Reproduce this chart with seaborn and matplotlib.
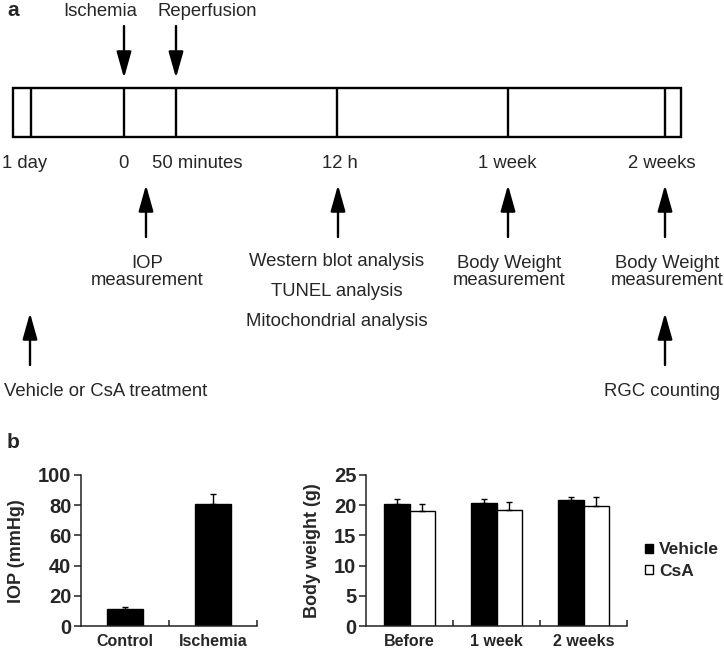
import matplotlib
matplotlib.use("Agg")
import matplotlib.pyplot as plt
import seaborn as sns
import pandas as pd
import numpy as np
from matplotlib.patches import Rectangle, Patch

# ---------------- data ----------------
time_labels = ["1 day", "0", "50 minutes", "12 h", "1 week", "2 weeks"]
top_events = ["Ischemia", "Reperfusion"]
mid_events = ["IOP\nmeasurement",
              "Western blot analysis", "TUNEL analysis", "Mitochondrial analysis",
              "Body Weight\nmeasurement", "Body Weight\nmeasurement"]
low_events = ["Vehicle or CsA treatment", "RGC counting"]

iop_groups = ["Control", "Ischemia"]
iop_mean = [11.2, 80.8]
iop_err = [1.6, 6.6]

bw_times = ["Before", "1 week", "2 weeks"]
bw_groups = ["Vehicle", "CsA"]
vehicle_mean = [20.2, 20.4, 20.9]
vehicle_err = [0.8, 0.7, 0.5]
csa_mean = [19.1, 19.2, 19.8]
csa_err = [1.1, 1.3, 1.5]

# ---------------- style ----------------
sns.set_style("white")
plt.rcParams["font.family"] = ["Liberation Sans", "DejaVu Sans"]

W, H = 724, 653
fig = plt.figure(figsize=(W / 100, H / 100), dpi=100)

# ---------------- panel a: timeline diagram (pixel layout) ----------------
ax_a = fig.add_axes([0, 0, 1, 1])
ax_a.set_xlim(0, W)
ax_a.set_ylim(H, 0)
ax_a.axis("off")

box_l, box_r, box_t, box_b = 13, 681, 88, 137
dividers = [31, 124, 176, 337, 508, 665]
ax_a.add_patch(Rectangle((box_l, box_t), box_r - box_l, box_b - box_t,
                         fill=False, lw=1.7, ec="black"))
ax_a.vlines(dividers, box_t, box_b, colors="black", lw=1.7)

fs = 13.3
arrow_kw = dict(arrowstyle="-|>,head_length=1.6,head_width=0.45",
                lw=1.7, color="black", shrinkA=0, shrinkB=0)

def arrow(x, y_tail, y_tip):
    ax_a.annotate("", xy=(x, y_tip), xytext=(x, y_tail), arrowprops=arrow_kw)

ax_a.text(7, 11, "a", fontsize=15, fontweight="bold", ha="left", va="center")
ax_a.text(7, 443, "b", fontsize=15, fontweight="bold", ha="left", va="center")

# top events
ax_a.text(100, 12, top_events[0], fontsize=fs, ha="center", va="center")
ax_a.text(207, 12, top_events[1], fontsize=fs, ha="center", va="center")
arrow(124, 26, 78)
arrow(176, 26, 78)

# time labels
ty = 163
ax_a.text(2, ty, time_labels[0], fontsize=fs, ha="left", va="center")
ax_a.text(123, ty, time_labels[1], fontsize=fs, ha="center", va="center")
ax_a.text(152, ty, time_labels[2], fontsize=fs, ha="left", va="center")
ax_a.text(340, ty, time_labels[3], fontsize=fs, ha="center", va="center")
ax_a.text(507, ty, time_labels[4], fontsize=fs, ha="center", va="center")
ax_a.text(662, ty, time_labels[5], fontsize=fs, ha="center", va="center")

# middle events
for x in [146, 338, 508, 665]:
    arrow(x, 237, 185)
ax_a.text(147, 272, mid_events[0], fontsize=fs, ha="center", va="center", linespacing=1.05)
ax_a.text(337, 262, mid_events[1], fontsize=fs, ha="center", va="center")
ax_a.text(337, 292, mid_events[2], fontsize=fs, ha="center", va="center")
ax_a.text(337, 322, mid_events[3], fontsize=fs, ha="center", va="center")
ax_a.text(509, 272, mid_events[4], fontsize=fs, ha="center", va="center", linespacing=1.05)
ax_a.text(667, 272, mid_events[5], fontsize=fs, ha="center", va="center", linespacing=1.05)

# lower events
arrow(30, 365, 313)
arrow(665, 365, 313)
ax_a.text(106, 391, low_events[0], fontsize=fs, ha="center", va="center")
ax_a.text(662, 391, low_events[1], fontsize=fs, ha="center", va="center")

# ---------------- panel b ----------------
def px_axes(x0, x1, y0, y1):
    return fig.add_axes([x0 / W, 1 - y1 / H, (x1 - x0) / W, (y1 - y0) / H])

spine_c = "#222222"
tick_fs = 14.5
lab_fs = 13

def style_axes(ax, ncat):
    sns.despine(ax=ax)
    for s in ["left", "bottom"]:
        ax.spines[s].set_color(spine_c)
        ax.spines[s].set_linewidth(1.1)
    ax.set_xlim(-0.5, ncat - 0.5)
    ax.set_xticks(np.arange(ncat) + 0.5, minor=True)
    ax.tick_params(axis="x", which="major", length=0, pad=6, labelsize=11.5)
    ax.tick_params(axis="x", which="minor", direction="in", length=4,
                   width=1.1, color=spine_c)
    ax.tick_params(axis="y", which="major", direction="out", length=5,
                   width=1.1, color=spine_c, pad=2, labelsize=tick_fs)
    ax.tick_params(left=True, bottom=False)
    ax.tick_params(axis="x", which="minor", bottom=True)
    for t in ax.get_xticklabels() + ax.get_yticklabels():
        t.set_fontweight("bold")
    ax.set_xlabel("")

# IOP chart
ax1 = px_axes(81, 257, 475, 626)
iop_df = pd.DataFrame({"group": iop_groups, "iop": iop_mean})
sns.barplot(data=iop_df, x="group", y="iop", color="black", edgecolor="black",
            linewidth=1, width=0.41, errorbar=None, ax=ax1, saturation=1)
xs = [p.get_x() + p.get_width() / 2 for p in ax1.patches]
ax1.errorbar(xs, iop_mean, yerr=[np.zeros(len(iop_err)), iop_err], fmt="none",
             ecolor="black", elinewidth=1, capsize=2.5, capthick=1)
ax1.set_ylim(0, 100)
ax1.set_yticks(np.arange(0, 101, 20))
style_axes(ax1, 2)
ax1.set_ylabel("IOP (mmHg)", fontsize=lab_fs, fontweight="bold")
ax1.yaxis.set_label_coords(25 / W, 1 - 551 / H, transform=fig.transFigure)

# Body weight chart
ax2 = px_axes(366, 627, 475, 626)
bw_df = pd.DataFrame({
    "time": bw_times * 2,
    "group": [bw_groups[0]] * 3 + [bw_groups[1]] * 3,
    "weight": vehicle_mean + csa_mean,
})
sns.barplot(data=bw_df, x="time", y="weight", hue="group",
            palette=["black", "white"], edgecolor="black", linewidth=1,
            width=0.58, errorbar=None, ax=ax2, saturation=1, legend=False)
for cont, err, mean in zip(ax2.containers, [vehicle_err, csa_err], [vehicle_mean, csa_mean]):
    xs = [p.get_x() + p.get_width() / 2 for p in cont.patches]
    ax2.errorbar(xs, mean, yerr=[np.zeros(len(err)), err], fmt="none",
                 ecolor="black", elinewidth=1, capsize=2.5, capthick=1)
ax2.set_ylim(0, 25)
ax2.set_yticks(np.arange(0, 26, 5))
style_axes(ax2, 3)
ax2.set_ylabel("Body weight (g)", fontsize=lab_fs, fontweight="bold")
ax2.yaxis.set_label_coords(321 / W, 1 - 551 / H, transform=fig.transFigure)

handles = [Patch(facecolor="black", edgecolor="black", lw=1),
           Patch(facecolor="white", edgecolor="black", lw=1)]
fig.legend(handles, bw_groups, loc="center left",
           bbox_to_anchor=(645 / W, 1 - 560.5 / H), frameon=False,
           prop={"weight": "bold", "size": 12.5}, handlelength=0.45,
           handleheight=0.45, handletextpad=0.35, labelspacing=0.35,
           borderpad=0, borderaxespad=0)

fig.savefig("out.png", dpi=100)
